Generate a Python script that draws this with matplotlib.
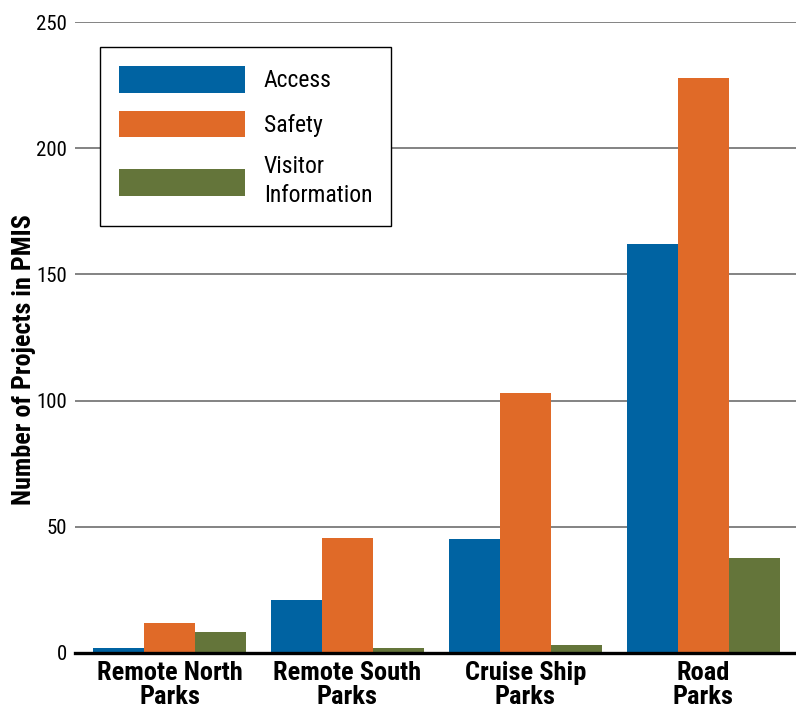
import matplotlib
matplotlib.use("Agg")
import matplotlib.pyplot as plt
import numpy as np
from matplotlib import font_manager as fm
from matplotlib.font_manager import FontProperties

categories = ["Remote North\nParks", "Remote South\nParks", "Cruise Ship\nParks", "Road\nParks"]
series_names = ["Access", "Safety", "Visitor\nInformation"]
access = [2, 21, 45, 162]
safety = [12, 45.5, 103, 228]
visitor = [8.5, 2, 3, 37.5]
yticks = [0, 50, 100, 150, 200, 250]

colors = ["#0063A2", "#E06A28", "#64753A"]


def _wnum(w):
    if isinstance(w, (int, float)):
        return int(w)
    return {"bold": 700, "heavy": 800, "black": 900, "semibold": 600, "demibold": 600,
            "medium": 500, "normal": 400, "regular": 400, "book": 400, "light": 300}.get(str(w).lower(), 400)


def _is_cond(f):
    n = (f.name + " " + str(f.fname)).lower()
    return ("narrow" in n or "condensed" in n or str(f.stretch) in
            ("condensed", "semi-condensed", "extra-condensed", "ultra-condensed"))


pref = ["liberation sans narrow", "roboto condensed", "open sans", "noto sans", "dejavu sans", "roboto", "lato"]


def pick(bold):
    cands = []
    for f in fm.fontManager.ttflist:
        if not _is_cond(f) or f.style != "normal":
            continue
        wn = _wnum(f.weight)
        if bold and wn < 600:
            continue
        if not bold and not (350 <= wn <= 450):
            continue
        cands.append(f)
    if not cands:
        return None

    def key(f):
        n = f.name.lower()
        for i, p in enumerate(pref):
            if n.startswith(p):
                return (i, abs(_wnum(f.weight) - (700 if bold else 400)))
        return (len(pref), abs(_wnum(f.weight) - (700 if bold else 400)))
    cands.sort(key=key)
    return cands[0].fname


reg_file = pick(False)
bold_file = pick(True)
cond = reg_file is not None and bold_file is not None
scale = 1.0 if cond else 0.82


def fp(bold, size):
    if cond:
        return FontProperties(fname=bold_file if bold else reg_file, size=size * scale)
    return FontProperties(family="DejaVu Sans", weight="bold" if bold else "normal", size=size * scale)


fig = plt.figure(figsize=(7.96, 7.09), dpi=100)
ax = fig.add_axes([75/796, 56/709, 721/796, 631/709])

x = np.arange(len(categories))
w = 0.2865
for i, (vals, name) in enumerate(zip([access, safety, visitor], series_names)):
    ax.bar(x + (i - 1) * w, vals, width=w, color=colors[i], label=name, zorder=3, linewidth=0)

ax.set_xlim(-0.531, 3.52)
ax.set_ylim(0, 250)
ax.set_yticks(yticks)
ax.set_yticklabels([str(t) for t in yticks])
for lbl in ax.get_yticklabels():
    lbl.set_fontproperties(fp(False, 15))
ax.set_xticks(x)
ax.set_xticklabels(categories, linespacing=0.98)
for lbl in ax.get_xticklabels():
    lbl.set_fontproperties(fp(True, 19))
ax.tick_params(axis="y", length=0, pad=6)
ax.tick_params(axis="x", length=0, pad=6)
ax.grid(axis="y", color="#7a7a7a", linewidth=1.3, zorder=0)
ax.set_axisbelow(True)
for s in ["top", "right", "left"]:
    ax.spines[s].set_visible(False)
ax.spines["bottom"].set_linewidth(2.4)
ax.spines["bottom"].set_color("black")
ax.spines["bottom"].set_zorder(4)

fig.text(24/796, 1 - 360/709, "Number of Projects in PMIS", rotation=90,
         ha="center", va="center", fontproperties=fp(True, 18.8))

leg = ax.legend(loc="upper left", bbox_to_anchor=(0.0347, 0.960), borderaxespad=0,
                prop=fp(False, 17), frameon=True, fancybox=False,
                edgecolor="black", handlelength=5.34, handleheight=1.37, handletextpad=0.8,
                labelspacing=0.75, borderpad=0.8)
for t in leg.get_texts():
    t.set_linespacing(1.35)
leg.get_frame().set_linewidth(1.0)
leg.get_frame().set_alpha(1)

fig.savefig("out.png", dpi=100)
